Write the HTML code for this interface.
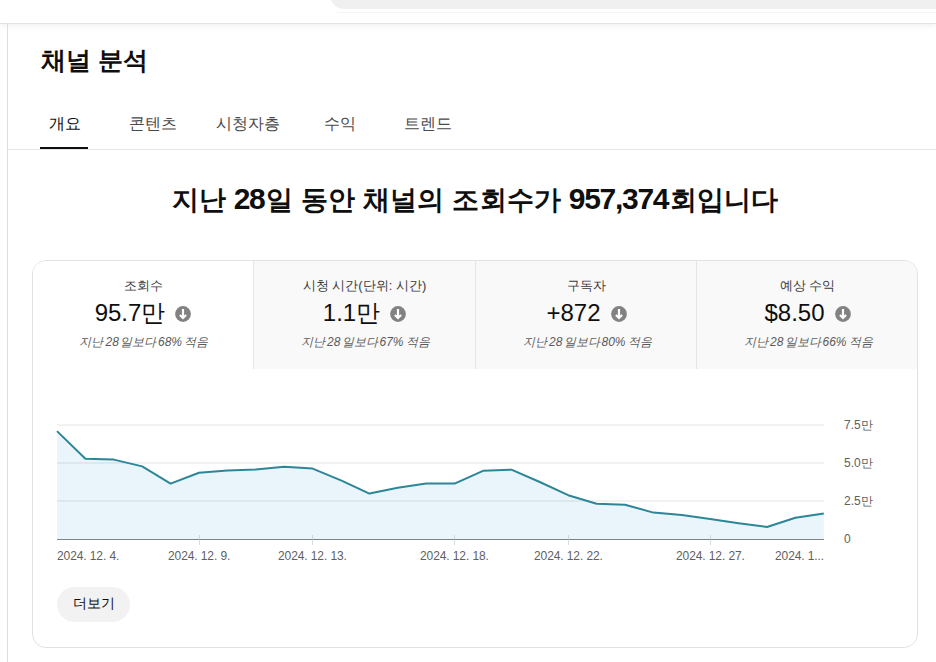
<!DOCTYPE html>
<html><head><meta charset="utf-8">
<style>
html,body{margin:0;padding:0;background:#fff;width:936px;height:662px;overflow:hidden;font-family:"Liberation Sans",sans-serif;color:#0f0f0f}
.abs{position:absolute}
#search{left:330px;top:-40px;width:700px;height:49px;background:#f0f0f0;border-radius:0 0 0 14px}
#hdr{left:0;top:0;width:936px;height:23px;border-bottom:1px solid #e3e3e3;box-shadow:0 2px 6px rgba(0,0,0,0.06)}
#side{left:7px;top:23px;width:1px;height:700px;background:#dedede}
#title{left:41px;top:45px;font-size:25px;font-weight:bold;white-space:nowrap;line-height:30px}
.tab{top:114px;font-size:16px;color:#4a4a4a;white-space:nowrap;line-height:20px}
#tabline{left:8px;top:149px;width:930px;height:1px;background:#e5e5e5}
#uline{left:40px;top:146.5px;width:48px;height:2.5px;background:#0f0f0f}
#headline{left:0;top:181px;width:950px;text-align:center;font-size:27.4px;letter-spacing:0.17px;font-weight:bold;white-space:nowrap;line-height:36px}
#card{left:32px;top:260px;width:884px;height:386px;border:1px solid #e2e2e2;border-radius:14px;overflow:hidden}
.mt{top:0;height:108px;background:#f9f9f9;border-left:1px solid #e5e5e5}
.mt .l{position:absolute;left:0;width:100%;top:17px;text-align:center;font-size:13px;color:#3a3a3a;line-height:16px}
.mt .v{position:absolute;left:0px;width:100%;top:37px;text-align:center;font-size:24px;color:#0f0f0f;line-height:30px;white-space:nowrap}
.mt .s{position:absolute;left:50%;width:0;top:73px;font-size:12px;color:#5a5a5a;font-style:italic;line-height:16px;white-space:nowrap}
.mt .s span{position:absolute;top:0}
.ic{display:inline-block;vertical-align:middle;margin-left:10px;position:relative;top:-1px}
#more{left:57px;top:587px;width:73px;height:35px;border-radius:18px;background:#f2f2f2;font-size:14px;line-height:33px;text-align:center}
.yl{left:844px;font-size:12px;color:#606060;line-height:14px}
.xl{top:549px;font-size:12px;letter-spacing:-0.1px;color:#606060;line-height:14px;white-space:nowrap}
.dg{font-size:30px;letter-spacing:-1.3px;margin-right:1.5px}
</style></head><body>
<div id="search" class="abs"></div>
<div id="hdr" class="abs"></div>
<div class="abs" style="left:336px;top:12px;width:600px;height:1px;background:#f6f6f6"></div>
<div id="side" class="abs"></div>
<div id="title" class="abs">채널 분석</div>
<div class="abs tab" style="left:49px;color:#0f0f0f">개요</div>
<div class="abs tab" style="left:129px">콘텐츠</div>
<div class="abs tab" style="left:216px">시청자층</div>
<div class="abs tab" style="left:324px">수익</div>
<div class="abs tab" style="left:404px">트렌드</div>
<div id="tabline" class="abs"></div>
<div id="uline" class="abs"></div>
<div id="headline" class="abs">지난 <span class="dg">28</span>일 동안 채널의 조회수가 <span class="dg">957,374</span>회입니다</div>

<div id="card" class="abs">
  <div class="abs mt" style="left:0;width:220px;background:#fff;border-left:none">
    <div class="l">조회수</div>
    <div class="v">95.7만<svg class="ic" width="16" height="16" viewBox="0 0 16 16"><circle cx="8" cy="8" r="7.9" fill="#828282"/><path d="M8 3V11.8" stroke="#fff" stroke-width="2.2"/><path d="M4.9 8.9L8 12L11.1 8.9" fill="none" stroke="#fff" stroke-width="2.1" stroke-linejoin="miter"/></svg></div>
    <div class="s"><span style="left:-64px">지난</span><span style="left:-37.5px">28</span><span style="left:-23px">일보다</span><span style="left:15px">68%</span><span style="left:41px">적음</span></div>
  </div>
  <div class="abs mt" style="left:220px;width:221px">
    <div class="l">시청 시간(단위: 시간)</div>
    <div class="v">1.1만<svg class="ic" width="16" height="16" viewBox="0 0 16 16"><circle cx="8" cy="8" r="7.9" fill="#828282"/><path d="M8 3V11.8" stroke="#fff" stroke-width="2.2"/><path d="M4.9 8.9L8 12L11.1 8.9" fill="none" stroke="#fff" stroke-width="2.1" stroke-linejoin="miter"/></svg></div>
    <div class="s"><span style="left:-64px">지난</span><span style="left:-37.5px">28</span><span style="left:-23px">일보다</span><span style="left:15px">67%</span><span style="left:41px">적음</span></div>
  </div>
  <div class="abs mt" style="left:442px;width:221px">
    <div class="l">구독자</div>
    <div class="v">+872<svg class="ic" width="16" height="16" viewBox="0 0 16 16"><circle cx="8" cy="8" r="7.9" fill="#828282"/><path d="M8 3V11.8" stroke="#fff" stroke-width="2.2"/><path d="M4.9 8.9L8 12L11.1 8.9" fill="none" stroke="#fff" stroke-width="2.1" stroke-linejoin="miter"/></svg></div>
    <div class="s"><span style="left:-64px">지난</span><span style="left:-37.5px">28</span><span style="left:-23px">일보다</span><span style="left:15px">80%</span><span style="left:41px">적음</span></div>
  </div>
  <div class="abs mt" style="left:663px;width:221px">
    <div class="l">예상 수익</div>
    <div class="v">$8.50<svg class="ic" width="16" height="16" viewBox="0 0 16 16"><circle cx="8" cy="8" r="7.9" fill="#828282"/><path d="M8 3V11.8" stroke="#fff" stroke-width="2.2"/><path d="M4.9 8.9L8 12L11.1 8.9" fill="none" stroke="#fff" stroke-width="2.1" stroke-linejoin="miter"/></svg></div>
    <div class="s"><span style="left:-64px">지난</span><span style="left:-37.5px">28</span><span style="left:-23px">일보다</span><span style="left:15px">66%</span><span style="left:41px">적음</span></div>
  </div>
</div>

<svg class="abs" style="left:0;top:0" width="936" height="662">
<polygon points="57,539 57.0,431.1 85.4,458.8 113.8,459.6 142.2,466.4 170.6,483.6 199.0,472.8 227.4,470.6 255.8,469.4 284.2,466.7 312.6,468.6 341.0,480.3 369.4,493.6 397.8,487.8 426.2,483.6 454.6,483.6 483.0,470.8 511.4,469.7 539.8,482.0 568.2,495.2 596.6,503.8 625.0,504.7 653.4,512.6 681.8,515.0 710.2,519.0 738.6,523.2 767.0,527.0 795.4,517.7 823.8,513.6 823.8,539" fill="#e9f5fa"/>
<g fill="none" stroke="rgba(0,0,0,0.1)" stroke-width="1">
<line x1="57" y1="425" x2="824" y2="425"/>
<line x1="57" y1="463" x2="824" y2="463"/>
<line x1="57" y1="501" x2="824" y2="501"/>
</g>
<polyline points="57.0,431.1 85.4,458.8 113.8,459.6 142.2,466.4 170.6,483.6 199.0,472.8 227.4,470.6 255.8,469.4 284.2,466.7 312.6,468.6 341.0,480.3 369.4,493.6 397.8,487.8 426.2,483.6 454.6,483.6 483.0,470.8 511.4,469.7 539.8,482.0 568.2,495.2 596.6,503.8 625.0,504.7 653.4,512.6 681.8,515.0 710.2,519.0 738.6,523.2 767.0,527.0 795.4,517.7 823.8,513.6" fill="none" stroke="#2d8698" stroke-width="2" stroke-linejoin="round"/>
<line x1="57" y1="539.5" x2="824" y2="539.5" stroke="#7f8385" stroke-width="1"/>
<g stroke="#bfc4c6" stroke-width="1" opacity="0.6">
<line x1="199.5" y1="535" x2="199.5" y2="545"/>
<line x1="312.5" y1="535" x2="312.5" y2="545"/>
<line x1="454.5" y1="535" x2="454.5" y2="545"/>
<line x1="568.5" y1="535" x2="568.5" y2="545"/>
<line x1="710.5" y1="535" x2="710.5" y2="545"/>
</g>
</svg>

<div class="abs yl" style="top:418px">7.5만</div>
<div class="abs yl" style="top:456px">5.0만</div>
<div class="abs yl" style="top:494px">2.5만</div>
<div class="abs yl" style="top:532px">0</div>

<div class="abs xl" style="left:57px">2024. 12. 4.</div>
<div class="abs xl" style="left:168px">2024. 12. 9.</div>
<div class="abs xl" style="left:278px">2024. 12. 13.</div>
<div class="abs xl" style="left:420px">2024. 12. 18.</div>
<div class="abs xl" style="left:534px">2024. 12. 22.</div>
<div class="abs xl" style="left:676px">2024. 12. 27.</div>
<div class="abs xl" style="left:775px">2024. 1...</div>

<div id="more" class="abs">더보기</div>
</body></html>
